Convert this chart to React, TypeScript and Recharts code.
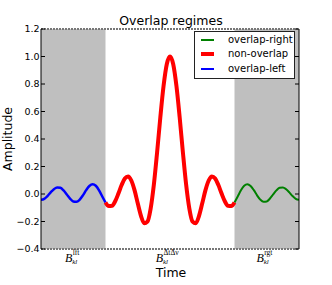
import React from "react";
import {
  Customized,
  Line,
  LineChart,
  ReferenceArea,
  ReferenceLine,
  XAxis,
  YAxis,
} from "recharts";

// amplitude vs time
const leftTimes = [
  -4.0, -3.9, -3.8, -3.7, -3.6, -3.5, -3.4, -3.3, -3.2, -3.1, -3.0,
  -2.9, -2.8, -2.7, -2.6, -2.5, -2.4, -2.3, -2.2, -2.1, -2.0,
];
const leftValues = [
  -0.042, -0.035, -0.015, 0.012, 0.035, 0.048, 0.045, 0.026, -0.003, -0.033, -0.054,
  -0.057, -0.041, -0.01, 0.028, 0.058, 0.071, 0.06, 0.027, -0.018, -0.062,
];

const midTimes = [
  -2.0, -1.9, -1.8, -1.7, -1.6, -1.5, -1.4, -1.3, -1.2, -1.1, -1.0,
  -0.9, -0.8, -0.7, -0.6, -0.5, -0.4, -0.3, -0.2, -0.1, 0.0,
  0.1, 0.2, 0.3, 0.4, 0.5, 0.6, 0.7, 0.8, 0.9, 1.0,
  1.1, 1.2, 1.3, 1.4, 1.5, 1.6, 1.7, 1.8, 1.9, 2.0,
];
const midValues = [
  -0.062, -0.088, -0.086, -0.053, 0.003, 0.065, 0.113, 0.128, 0.098, 0.028, -0.068,
  -0.159, -0.213, -0.201, -0.106, 0.069, 0.303, 0.557, 0.785, 0.944, 1.0,
  0.944, 0.785, 0.557, 0.303, 0.069, -0.106, -0.201, -0.213, -0.159, -0.068,
  0.028, 0.098, 0.128, 0.113, 0.065, 0.003, -0.053, -0.086, -0.088, -0.062,
];

const rightTimes = [
  2.0, 2.1, 2.2, 2.3, 2.4, 2.5, 2.6, 2.7, 2.8, 2.9, 3.0,
  3.1, 3.2, 3.3, 3.4, 3.5, 3.6, 3.7, 3.8, 3.9, 4.0,
];
const rightValues = [
  -0.062, -0.018, 0.027, 0.06, 0.071, 0.058, 0.028, -0.01, -0.041, -0.057, -0.054,
  -0.033, -0.003, 0.026, 0.045, 0.048, 0.035, 0.012, -0.015, -0.035, -0.042,
];

const yTicks = [-0.4, -0.2, 0.0, 0.2, 0.4, 0.6, 0.8, 1.0, 1.2];
const xTicks = [-3, 0, 3];
const xTickSup = ["lft", "ΔtΔν", "rgt"];
const shadedLeft = [-4, -2];
const shadedRight = [2, 4];

const seriesNames = ["overlap-right", "non-overlap", "overlap-left"];
const seriesColors = ["#008000", "#ff0000", "#0000ff"];

const toRows = (ts: number[], vs: number[]) => ts.map((t, i) => ({ t, v: vs[i] }));
const leftRows = toRows(leftTimes, leftValues);
const midRows = toRows(midTimes, midValues);
const rightRows = toRows(rightTimes, rightValues);

const SANS = "'DejaVu Sans', sans-serif";
const SERIF = "'Liberation Serif', serif";

function LeftTick({ x, y, payload }: any) {
  const label = payload.value.toFixed(1).replace("-", "\u2212");
  return (
    <g>
      <line x1={x} x2={x + 4} y1={y} y2={y} stroke="#000" />
      <text x={x - 1.5} y={y} dy="0.36em" textAnchor="end" fontSize={9.5} fontFamily={SANS} fill="#000">
        {label}
      </text>
    </g>
  );
}

function RightTick({ x, y }: any) {
  return <line x1={x - 4} x2={x} y1={y} y2={y} stroke="#000" />;
}

// split point between the B and its scripts, per tick
const splitOffsets = [-1, -7, -3];

function TimeTick({ x, y, payload }: any) {
  const i = xTicks.indexOf(payload.value);
  const sx = x + splitOffsets[i];
  return (
    <g fontFamily={SERIF} fill="#000">
      <text x={sx} y={y + 12.5} textAnchor="end" fontSize={12} fontStyle="italic">
        B
      </text>
      <text x={sx + 0.5} y={y + 6.2} fontSize={7.5}>
        {xTickSup[i]}
      </text>
      <text x={sx} y={y + 15} fontSize={7} fontStyle="italic">
        kl
      </text>
    </g>
  );
}

function TimeLabel() {
  return (
    <text x={171} y={277} textAnchor="middle" fontSize={12.5} fontFamily={SANS} fill="#000">
      Time
    </text>
  );
}

function AmplitudeLabel() {
  return (
    <text
      x={11.5}
      y={139}
      transform="rotate(-90 11.5 139)"
      textAnchor="middle"
      fontSize={12.5}
      fontFamily={SANS}
      fill="#000"
    >
      Amplitude
    </text>
  );
}

function ChartLegend() {
  const widths = [1.5, 4, 2];
  return (
    <div
      style={{
        position: "absolute",
        left: 194,
        top: 31,
        width: 101,
        height: 48,
        boxSizing: "border-box",
        border: "1px solid #222",
        background: "#fff",
        fontFamily: SANS,
        fontSize: 10,
        paddingTop: 1,
      }}
    >
      {seriesNames.map((name, i) => (
        <div key={name} style={{ display: "flex", alignItems: "center", height: 14.3 }}>
          <div
            style={{
              marginLeft: 6,
              width: 13,
              height: widths[i],
              background: seriesColors[i],
            }}
          />
          <span style={{ marginLeft: 14, lineHeight: "14px" }}>{name}</span>
        </div>
      ))}
    </div>
  );
}

export default function App() {
  return (
    <div style={{ position: "absolute", left: 0, top: 0, width: 332, height: 285, background: "#fff" }}>
      <LineChart width={332} height={285} margin={{ top: 29, right: 0, bottom: 0, left: 0 }}>
        <XAxis
          type="number"
          dataKey="t"
          domain={[-4, 4]}
          ticks={xTicks}
          height={36}
          axisLine={false}
          tickLine={false}
          tickSize={0}
          tickMargin={0}
          tick={<TimeTick />}
          allowDataOverflow
          label={<TimeLabel />}
        />
        <YAxis
          yAxisId="left"
          domain={[-0.4, 1.2]}
          ticks={yTicks}
          width={41}
          stroke="#000"
          tickLine={false}
          tickSize={0}
          tickMargin={0}
          tick={<LeftTick />}
          allowDataOverflow
          label={<AmplitudeLabel />}
        />
        <YAxis
          yAxisId="right"
          orientation="right"
          domain={[-0.4, 1.2]}
          ticks={yTicks}
          width={33}
          stroke="#000"
          tickLine={false}
          tickSize={0}
          tickMargin={0}
          tick={<RightTick />}
          allowDataOverflow
        />
        <ReferenceArea
          yAxisId="left"
          x1={shadedLeft[0]}
          x2={shadedLeft[1]}
          y1={-0.4}
          y2={1.2}
          fill="#bfbfbf"
          fillOpacity={1}
          strokeWidth={0}
        />
        <ReferenceArea
          yAxisId="left"
          x1={shadedRight[0]}
          x2={shadedRight[1]}
          y1={-0.4}
          y2={1.2}
          fill="#bfbfbf"
          fillOpacity={1}
          strokeWidth={0}
        />
        <ReferenceLine yAxisId="left" y={1.2} stroke="#777" strokeWidth={2} strokeDasharray="2 1" />
        <ReferenceLine yAxisId="left" y={-0.4} stroke="#777" strokeWidth={2} strokeDasharray="2 1" />
        <Line
          yAxisId="left"
          data={leftRows}
          dataKey="v"
          name={seriesNames[2]}
          type="monotone"
          stroke={seriesColors[2]}
          strokeWidth={2.5}
          dot={false}
          isAnimationActive={false}
        />
        <Line
          yAxisId="left"
          data={rightRows}
          dataKey="v"
          name={seriesNames[0]}
          type="monotone"
          stroke={seriesColors[0]}
          strokeWidth={2}
          dot={false}
          isAnimationActive={false}
        />
        <Line
          yAxisId="left"
          data={midRows}
          dataKey="v"
          name={seriesNames[1]}
          type="monotone"
          stroke={seriesColors[1]}
          strokeWidth={4}
          dot={false}
          isAnimationActive={false}
        />
        <Customized
          component={() => (
            <text x={171} y={25.3} textAnchor="middle" fontSize={12.5} fontFamily={SANS} fill="#000">
              Overlap regimes
            </text>
          )}
        />
      </LineChart>
      <ChartLegend />
    </div>
  );
}
